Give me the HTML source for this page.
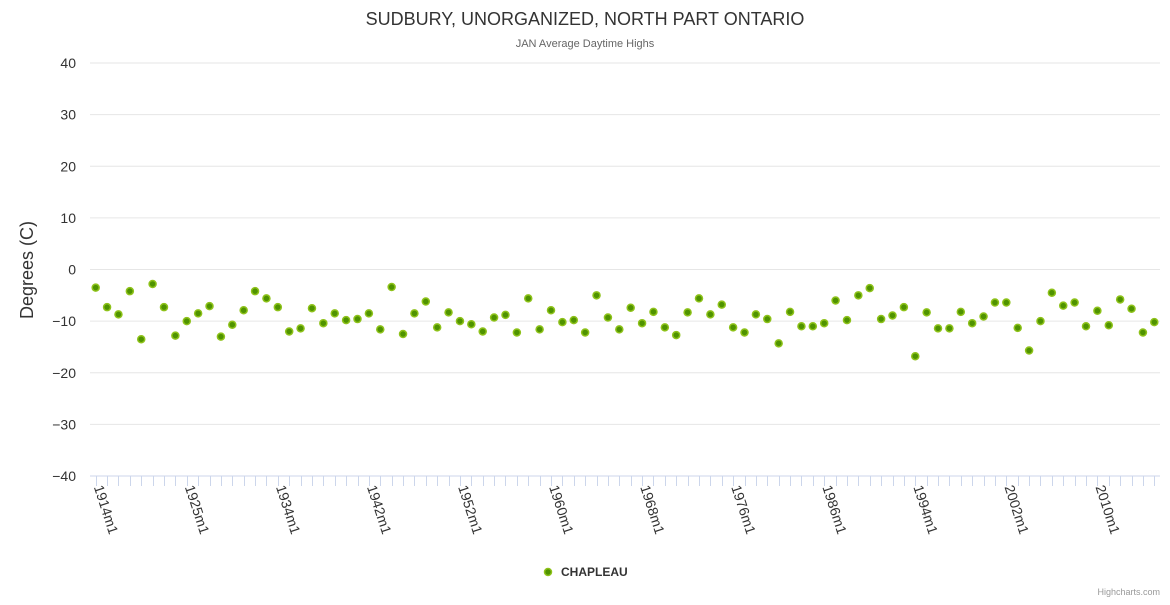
<!DOCTYPE html>
<html><head><meta charset="utf-8"><style>
body{margin:0;background:#fff;font-family:"Liberation Sans",sans-serif}
svg text{font-family:"Liberation Sans",sans-serif}
</style></head><body>
<svg id="chart" width="1170" height="600">
<text x="585" y="25" text-anchor="middle" font-size="18" fill="#333">SUDBURY, UNORGANIZED, NORTH PART ONTARIO</text>
<text x="585" y="47" text-anchor="middle" font-size="11" fill="#666">JAN Average Daytime Highs</text>
<text transform="translate(33,270) rotate(-90)" text-anchor="middle" font-size="18" fill="#333">Degrees (C)</text>
<g id="grid"></g><g id="xaxis"></g><g id="pts"></g>
<g>
<circle cx="548" cy="572" r="3.5" fill="#4f9300" stroke="#8ec21a" stroke-width="1.5"/>
<text x="561" y="576" font-size="12" font-weight="bold" fill="#333">CHAPLEAU</text></g>
<text x="1160" y="595" text-anchor="end" font-size="9" fill="#999">Highcharts.com</text>
</svg>
<script>
const values=[-3.5,-7.3,-8.7,-4.2,-13.5,-2.8,-7.3,-12.8,-10,-8.5,-7.1,-13,-10.7,-7.9,-4.2,-5.6,-7.3,-12,-11.4,-7.5,-10.4,-8.5,-9.8,-9.6,-8.5,-11.6,-3.4,-12.5,-8.5,-6.2,-11.2,-8.3,-10,-10.6,-12,-9.3,-8.8,-12.2,-5.6,-11.6,-7.9,-10.2,-9.8,-12.2,-5,-9.3,-11.6,-7.4,-10.4,-8.2,-11.2,-12.7,-8.3,-5.6,-8.7,-6.8,-11.2,-12.2,-8.7,-9.6,-14.3,-8.2,-11,-11,-10.4,-6,-9.8,-5,-3.6,-9.6,-8.9,-7.3,-16.8,-8.3,-11.4,-11.4,-8.2,-10.4,-9.1,-6.4,-6.4,-11.3,-15.7,-10,-4.5,-7,-6.4,-11,-8,-10.8,-5.8,-7.6,-12.2,-10.2];
const tickLabels=["1914m1","1925m1","1934m1","1942m1","1952m1","1960m1","1968m1","1976m1","1986m1","1994m1","2002m1","2010m1"];
const yTicks=[40,30,20,10,0,-10,-20,-30,-40];
const NS="http://www.w3.org/2000/svg";
const L=90,R=1160,T=63,B=476;
const n=values.length,w=(R-L)/n;
const xs=i=>L+(i+0.5)*w;
const ys=v=>T+(40-v)/80*(B-T);
function mk(tag,at,parent){const e=document.createElementNS(NS,tag);for(const k in at)e.setAttribute(k,at[k]);parent.appendChild(e);return e;}
const grid=document.getElementById('grid'),xa=document.getElementById('xaxis'),pts=document.getElementById('pts');
yTicks.forEach(t=>{
 const y=ys(t);
 const ln=mk('line',{x1:L,x2:R,y1:y,y2:y,stroke:t===-40?'#ccd6eb':'#e6e6e6','stroke-width':1},grid);
 
 
 const tx=mk('text',{x:76,y:y+5,'text-anchor':'end','font-size':14,fill:'#333'},grid);
 tx.textContent=String(t).replace('-','\u2212');
 
 
});
for(let i=0;i<n;i++){
 const x=Math.round(xs(i))+0.5;
 const tk=mk('line',{x1:x,x2:x,y1:B,y2:B+10,stroke:'#ccd6eb'},xa);
 
 
}
tickLabels.forEach((lab,k)=>{
 const x=xs(k*8);
 const tx=mk('text',{transform:`translate(${x-2},${B+11}) rotate(72)`,'font-size':14,fill:'#333'},xa);
 tx.textContent=lab;
 
 
});
values.forEach((v,i)=>{
 const c=mk('circle',{cx:xs(i),cy:ys(v),r:3.5,fill:'#4f9300',stroke:'#8ec21a','stroke-width':1.5},pts);
 
 
});
</script>
</body></html>
